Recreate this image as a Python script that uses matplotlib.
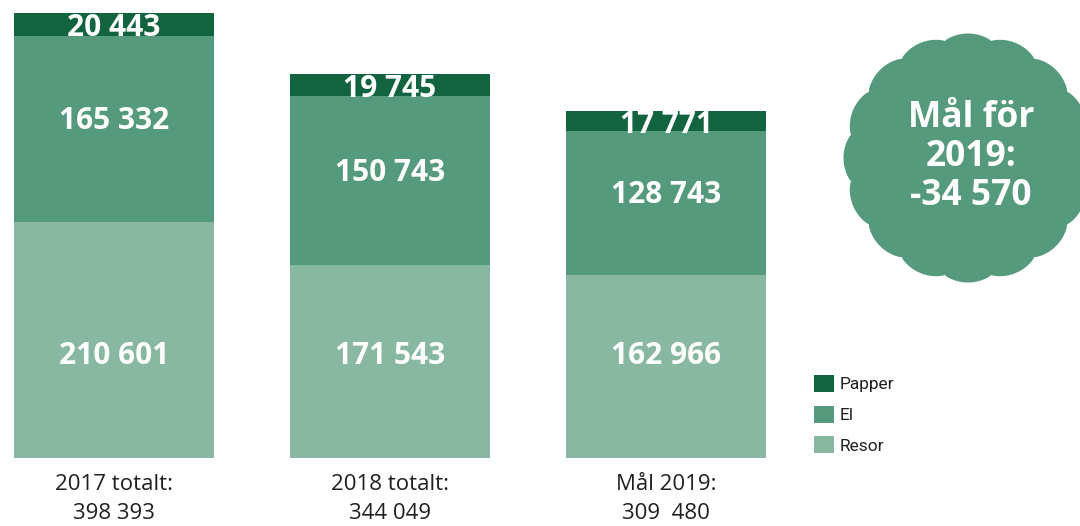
import numpy as np
import matplotlib
matplotlib.use("Agg")
import matplotlib.pyplot as plt
from matplotlib.patches import Polygon

# data
categories = ["2017 totalt:\n398 393", "2018 totalt:\n344 049", "Mål 2019:\n309  480"]
resor = [210601, 171543, 162966]
el = [165332, 150743, 128743]
papper = [20443, 19745, 17771]
badge_lines = "Mål för\n2019:\n-34 570"

colors = {"papper": "#11643f", "el": "#569a7e", "resor": "#88b8a2"}

W, H = 1080, 526
fig = plt.figure(figsize=(W / 100, H / 100), dpi=100)

# bar axes spans the whole figure; limits chosen so bars land where the reference has them
ax = fig.add_axes([0, 0, 1, 1])
px_per_unit = 445 / 396376
base_px = 458
ax.set_ylim(-(H - base_px) / px_per_unit, base_px / px_per_unit)
ax.set_xlim(-114 / 276, (W - 114) / 276)
ax.axis("off")

x = np.arange(len(categories))
width = 200 / 276
resor_a = np.array(resor)
el_a = np.array(el)
pap_a = np.array(papper)

b_resor = ax.bar(x, resor_a, width, color=colors["resor"], label="Resor")
b_el = ax.bar(x, el_a, width, bottom=resor_a, color=colors["el"], label="El")
b_pap = ax.bar(x, pap_a, width, bottom=resor_a + el_a, color=colors["papper"], label="Papper")

lab_kw = dict(ha="center", va="center", color="white", fontsize=21.5,
              fontweight="bold", family="Open Sans")
resor_level = resor_a.min() * 0.56  # resor labels sit on one common line
for i in x:
    ax.text(i, resor_level, f"{resor_a[i]:,}".replace(",", " "), **lab_kw)
    ax.text(i, resor_a[i] + el_a[i] / 2 + 8 / px_per_unit,
            f"{el_a[i]:,}".replace(",", " "), **lab_kw)
    ax.text(i, resor_a[i] + el_a[i] + pap_a[i] / 2 - 4 / px_per_unit,
            f"{pap_a[i]:,}".replace(",", " "), **lab_kw)
    ax.text(i, -16 / px_per_unit, categories[i], ha="center", va="top",
            fontsize=16, color="#231f20", family="Open Sans", linespacing=1.5)

# scalloped badge, drawn in pixel space
ov = fig.add_axes([0, 0, 1, 1], zorder=3)
ov.set_xlim(0, W)
ov.set_ylim(H, 0)
ov.axis("off")
cx, cy, R, amp, n = 968, 158, 119, 5.5, 16
t = np.linspace(0, 2 * np.pi, 1200)
r = R + amp * np.abs(np.cos(n * t / 2)) ** 0.7
ov.add_patch(Polygon(np.column_stack([cx + r * np.cos(t), cy + r * np.sin(t)]),
                     closed=True, facecolor=colors["el"], edgecolor="none"))
ov.text(cx + 3, cy - 1, badge_lines, ha="center", va="center", color="white",
        fontsize=25.5, fontweight="bold", family="Open Sans", linespacing=1.12)

leg = ax.legend(handles=[b_pap, b_el, b_resor], loc="upper left",
                bbox_to_anchor=(814 / W, 1 - 375 / H), frameon=False,
                fontsize=12.5, handlelength=1.15, handleheight=1.15,
                handletextpad=0.35, labelspacing=0.75, borderaxespad=0,
                borderpad=0)
for txt in leg.get_texts():
    txt.set_family(["Liberation Sans Narrow", "Roboto"])
    txt.set_color("#231f20")

fig.savefig("out.png", dpi=100)
